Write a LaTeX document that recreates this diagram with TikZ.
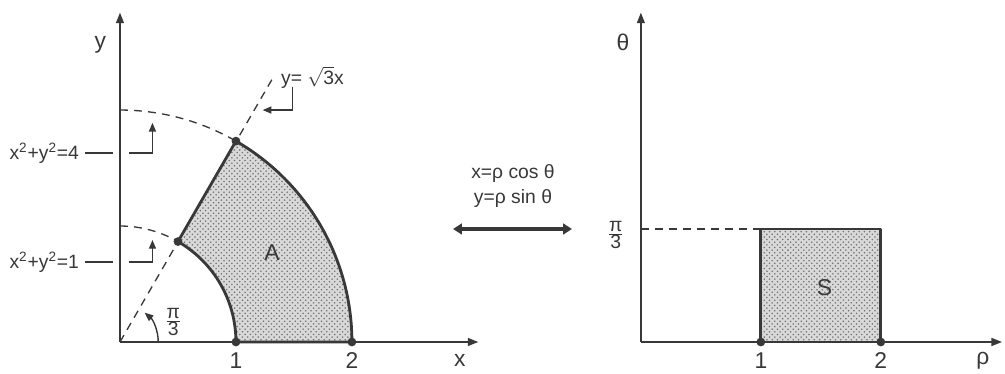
\documentclass[tikz,border=0pt]{standalone}
\usepackage{fontspec}
\setmainfont{Liberation Sans}
\usetikzlibrary{arrows.meta,patterns}
\definecolor{ink}{gray}{0.22}
\tikzset{
  axis/.style={draw=ink, line width=0.9pt, -{Triangle[length=6pt,width=4.5pt]}},
  edge/.style={draw=ink, line width=1.6pt, line join=round},
  guide/.style={draw=ink, line width=0.75pt, dash pattern=on 4.5pt off 3.5pt},
  lead/.style={draw=ink, line width=0.8pt},
  pointer/.style={draw=ink, line width=0.8pt, -{Triangle[length=5pt,width=4pt]}},
  map/.style={draw=ink, line width=1.8pt, {Triangle[length=5pt,width=6pt]}-{Triangle[length=5pt,width=6pt]}},
  dot/.style={circle, fill=ink, inner sep=0pt, minimum size=5pt},
  tick/.style={text=ink, font=\fontsize{13}{15}\selectfont},
  lbl/.style={text=ink, font=\fontsize{11}{13}\selectfont},
  shade/.style={preaction={fill=black!15}, pattern=crosshatch dots, pattern color=black!55},
}
\begin{document}
\begin{tikzpicture}[x=0.02cm,y=0.02cm]
\useasboundingbox (0,0) rectangle (1005,374);

% region A in the xy-plane
\begin{scope}[shift={(2.4cm,0.64cm)},x=2.32cm,y=2.32cm]
\coordinate (O) at (0,0);
\draw[axis] (O) -- (0,2.84);
\draw[axis] (O) -- (3.09,0);
\node[tick] (ylab) at (-0.17,2.56) {y};
\node[tick] (xlab) at (2.93,-0.16) {x};
\draw[guide] (0,2) arc[start angle=90, end angle=60, radius=2];
\draw[guide] (0,1) arc[start angle=90, end angle=60, radius=1];
\draw[guide] (O) -- (1.32,2.28);
\path[shade, edge] (1,0) -- (2,0) arc[start angle=0, end angle=60, radius=2]
  -- (60:1) arc[start angle=60, end angle=0, radius=1] -- cycle;
\node[dot] (a1) at (1,0) {};
\node[dot] (a2) at (2,0) {};
\node[dot] (a3) at (60:1) {};
\node[dot] (a4) at (60:2) {};
\node[tick] (t1) at (1,-0.16) {1};
\node[tick] (t2) at (2,-0.16) {2};
\node[tick] (A) at (1.31,0.77) {A};
% angle pi/3
\draw[pointer] (0.33,0) arc[start angle=0, end angle=50, radius=0.33];
\node[lbl] (ang) at (0.46,0.17) {$\frac{\mbox{π}}{\mbox{3}}$};
% labels of the curves
\node[lbl] (line) at (1.66,2.28) {y= $\sqrt{\mbox{3}}$x};
\draw[pointer] (1.49,2.2) -- (1.49,2.0) -- (1.23,2.0);
\node[lbl, anchor=east] (c4) at (-0.30,1.63) {x\textsuperscript{2}+y\textsuperscript{2}=4};
\draw[lead] (c4.east) -- (-0.06,1.63);
\draw[pointer] (0.08,1.63) -- (0.28,1.63) -- (0.28,1.89);
\node[lbl, anchor=east] (c1) at (-0.30,0.69) {x\textsuperscript{2}+y\textsuperscript{2}=1};
\draw[lead] (c1.east) -- (-0.06,0.69);
\draw[pointer] (0.08,0.69) -- (0.28,0.69) -- (0.28,0.88);
\end{scope}

% change of variables
\node[lbl] (eqx) at (513,200) {x=ρ cos θ};
\node[lbl] (eqy) at (513,175) {y=ρ sin θ};
\coordinate (mL) at (453,145);
\coordinate (mR) at (572,145);
\draw[map] (mL) -- (mR);

% rectangle S in the rho-theta plane
\begin{scope}[shift={(12.82cm,0.64cm)},x=2.4cm,y=2.32cm]
\coordinate (Os) at (0,0);
\draw[axis] (Os) -- (0,2.84);
\draw[axis] (Os) -- (3.01,0);
\node[tick] (thlab) at (-0.15,2.58) {θ};
\node[tick] (rholab) at (2.85,-0.16) {ρ};
\draw[guide] (0,0.974) -- (1,0.974);
\path[shade, edge] (1,0) rectangle (2,0.974);
\node[dot] (s1) at (1,0) {};
\node[dot] (s2) at (2,0) {};
\node[tick] (u1) at (1,-0.16) {1};
\node[tick] (u2) at (2,-0.16) {2};
\node[lbl] (pi3) at (-0.21,0.92) {$\frac{\mbox{π}}{\mbox{3}}$};
\node[tick] (S) at (1.53,0.47) {S};
\end{scope}
\end{tikzpicture}
\end{document}
